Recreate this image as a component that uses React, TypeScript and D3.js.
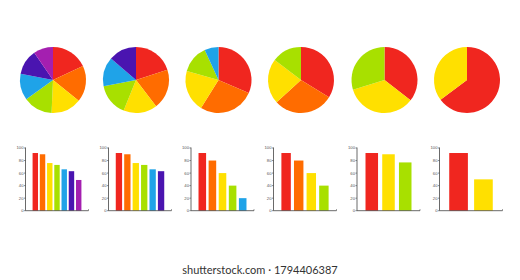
import React from "react";
import * as d3 from "d3";

const COLORS = {
  red: "#f0261f",
  orange: "#ff6c00",
  yellow: "#ffe000",
  green: "#a8e000",
  blue: "#1fa3e8",
  indigo: "#4a14b0",
  purple: "#a41fb0",
};

const set1 = [92, 90, 76, 73, 66, 63, 49];
const set1Colors = ["red", "orange", "yellow", "green", "blue", "indigo", "purple"];
const set2 = [92, 90, 76, 73, 66, 63];
const set2Colors = ["red", "orange", "yellow", "green", "blue", "indigo"];
const set3 = [92, 80, 60, 40, 20];
const set3Colors = ["red", "orange", "yellow", "green", "blue"];
const set4 = [92, 80, 60, 40];
const set4Colors = ["red", "orange", "yellow", "green"];
const set5 = [92, 90, 77];
const set5Colors = ["red", "yellow", "green"];
const set6 = [92, 50];
const set6Colors = ["red", "yellow"];

const datasets = [set1, set2, set3, set4, set5, set6];
const colorSets = [set1Colors, set2Colors, set3Colors, set4Colors, set5Colors, set6Colors];
const yTicks = [0, 20, 40, 60, 80, 100];

const W = 520;
const H = 280;

function Group({ values, colors, cx }: { values: number[]; colors: string[]; cx: number }) {
  const pie = d3.pie<number>().sort(null).value((d) => d)(values);
  const arc = d3.arc<d3.PieArcDatum<number>>().innerRadius(0).outerRadius(33);
  const x0 = cx - 27.5;
  const x = d3
    .scaleBand<number>()
    .domain(values.map((_, i) => i))
    .range([x0 + 6, x0 + 57])
    .paddingInner(0.25)
    .paddingOuter(0.15);
  const y = d3.scaleLinear().domain([0, 100]).range([210.7, 148]);
  return (
    <g>
      <g transform={`translate(${cx},80)`}>
        {pie.map((p, i) => (
          <path key={i} d={arc(p) || ""} fill={(COLORS as any)[colors[i]]} />
        ))}
      </g>
      {values.map((v, i) => (
        <rect
          key={i}
          x={x(i)}
          y={y(v)}
          width={x.bandwidth()}
          height={y(0) - y(v)}
          fill={(COLORS as any)[colors[i]]}
        />
      ))}
      <line x1={x0} x2={x0} y1={y(100) - 0.5} y2={y(0)} stroke="#444" strokeWidth={0.8} />
      <line x1={x0} x2={x0 + 63} y1={y(0)} y2={y(0)} stroke="#444" strokeWidth={0.8} />
      <line x1={x0 + 63} x2={x0 + 63} y1={y(0) - 1.5} y2={y(0)} stroke="#444" strokeWidth={0.6} />
      {yTicks.map((t) => (
        <g key={t}>
          <line x1={x0 - 1.5} x2={x0} y1={y(t)} y2={y(t)} stroke="#444" strokeWidth={0.6} />
          <text
            x={x0 - 2}
            y={y(t)}
            dy="0.35em"
            textAnchor="end"
            fontSize={4.2}
            fontFamily="Arial, 'Liberation Sans', sans-serif"
            fill="#555"
          >
            {t}
          </text>
        </g>
      ))}
    </g>
  );
}

export default function App() {
  const centers = [53, 136, 218.5, 301, 384.5, 467];
  return (
    <svg
      width={W}
      height={H}
      style={{ position: "absolute", left: 0, top: 0, display: "block", background: "#fff" }}
    >
      <rect width={W} height={H} fill="#fff" />
      {datasets.map((vals, i) => (
        <Group key={i} values={vals} colors={colorSets[i]} cx={centers[i]} />
      ))}
      <text
        x={260}
        y={270.5}
        dy="0.35em"
        textAnchor="middle"
        fontSize={11}
        fontFamily="Lato, 'Open Sans', sans-serif"
        fill="#333"
      >
        shutterstock.com · 1794406387
      </text>
    </svg>
  );
}
